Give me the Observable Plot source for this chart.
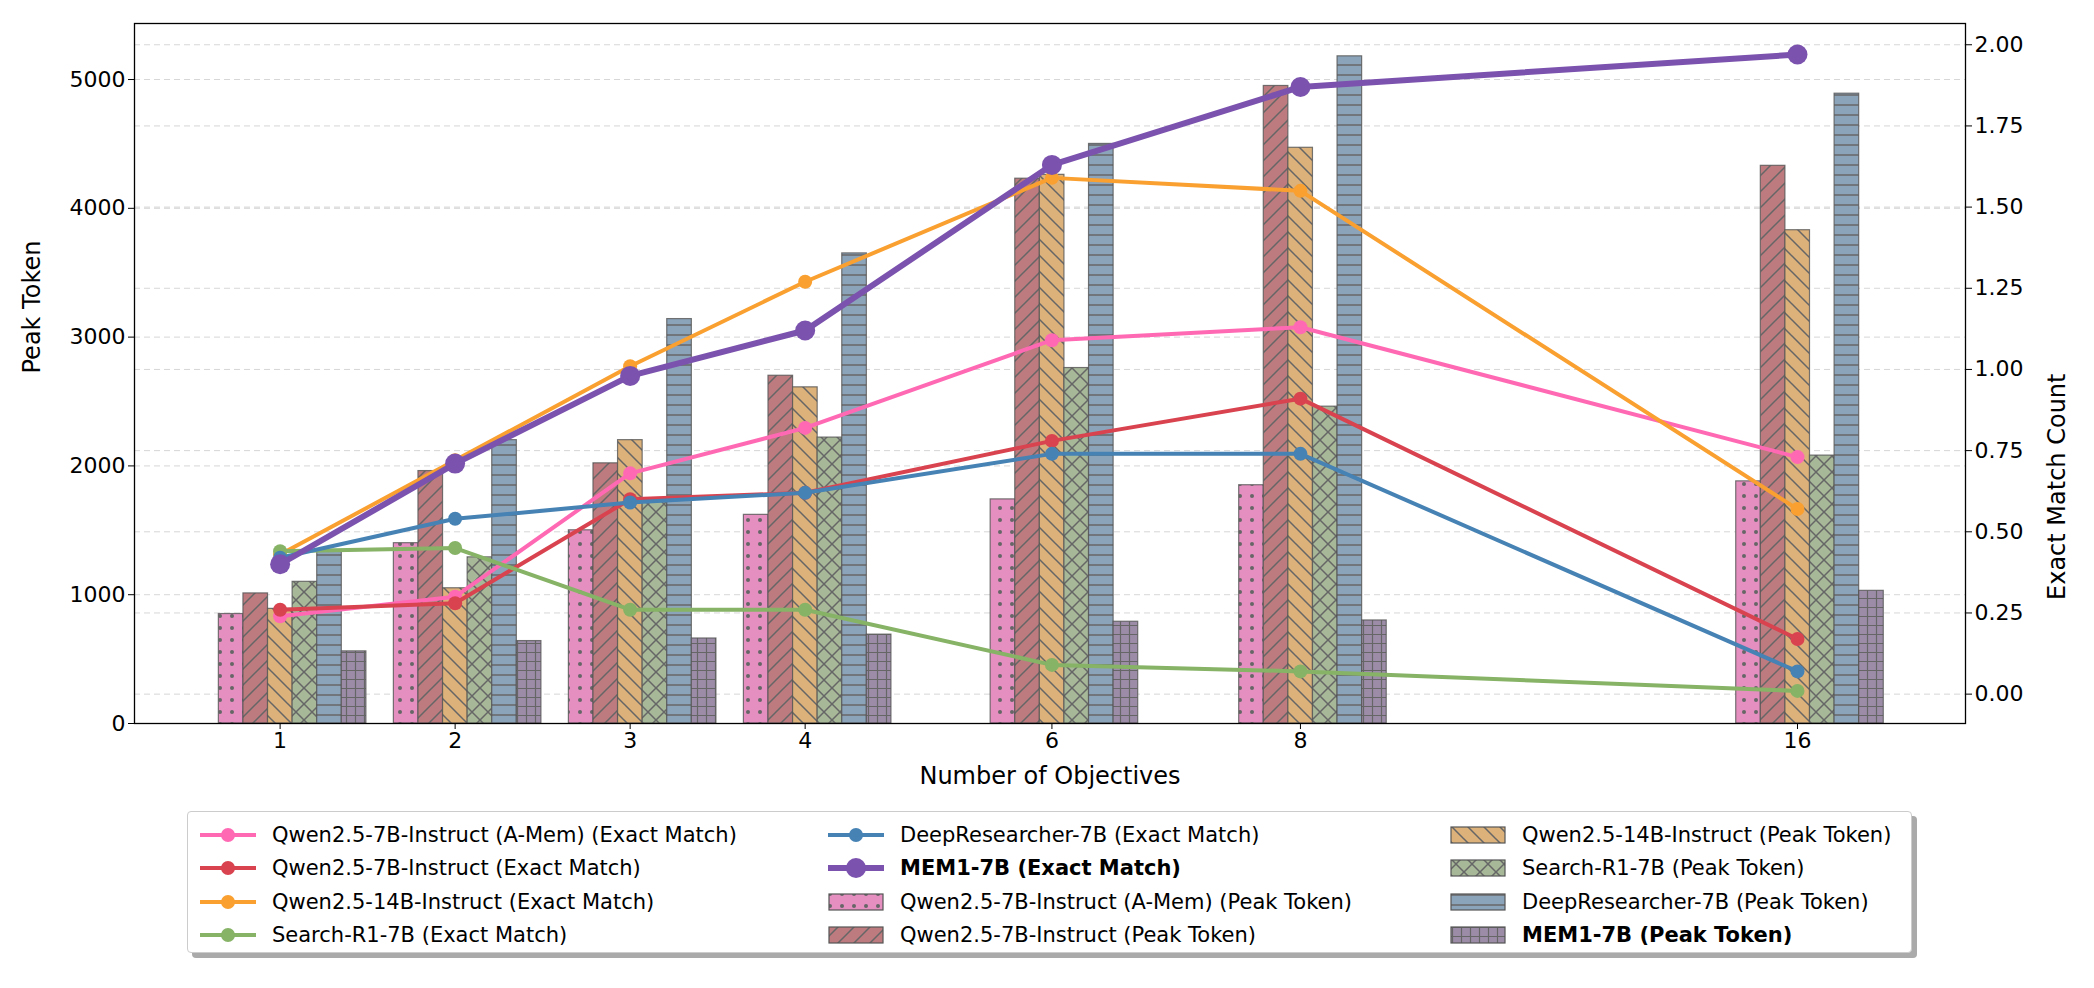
<!DOCTYPE html>
<html><head><meta charset="utf-8">
<script src="https://cdn.jsdelivr.net/npm/d3@7"></script>
<script src="https://cdn.jsdelivr.net/npm/@observablehq/plot@0.6"></script>
<style>
body{margin:0;background:#fff;font-family:"DejaVu Sans",sans-serif;}
#legend{position:absolute;left:187px;top:811px;width:1725px;height:142px;border:1.5px solid #ccc;border-radius:4px;background:#fff;box-shadow:5px 5px 0 #aaa;box-sizing:border-box;padding:6px 0 0 0;display:grid;grid-template-columns:628px 622px 470px;font-size:21px;}
.it{display:flex;align-items:center;height:33px;}
.it svg{margin:0 14px 0 10px;}
b{font-weight:bold}
</style></head><body>
<div id="chart"></div>
<div id="legend"></div>
<script>
const objectives = ["1","2","3","4","6","8","16"];
const xPos = [0,1,2,3,4.41,5.83,8.67];
const series = ["Qwen2.5-7B-Instruct (A-Mem)","Qwen2.5-7B-Instruct","Qwen2.5-14B-Instruct","Search-R1-7B","DeepResearcher-7B","MEM1-7B"];
const peakAMem = [850,1400,1500,1620,1740,1850,1880];
const peakQwen7 = [1010,1960,2020,2700,4230,4950,4330];
const peakQwen14 = [890,1050,2200,2610,4260,4470,3830];
const peakSearch = [1100,1290,1720,2220,2760,2460,2080];
const peakDR = [1340,2200,3140,3650,4500,5180,4890];
const peakMEM1 = [560,640,660,690,790,800,1030];
const emAMem = [0.24,0.30,0.68,0.82,1.09,1.13,0.73];
const emQwen7 = [0.26,0.28,0.60,0.62,0.78,0.91,0.17];
const emQwen14 = [0.43,0.72,1.01,1.27,1.59,1.55,0.57];
const emSearch = [0.44,0.45,0.26,0.26,0.09,0.07,0.01];
const emDR = [0.42,0.54,0.59,0.62,0.74,0.74,0.07];
const emMEM1 = [0.40,0.71,0.98,1.12,1.63,1.87,1.97];
const leftTicks = [0,1000,2000,3000,4000,5000];
const rightTicks = [0,0.25,0.5,0.75,1,1.25,1.5,1.75,2];

const peaks=[peakAMem,peakQwen7,peakQwen14,peakSearch,peakDR,peakMEM1];
const ems=[emAMem,emQwen7,emQwen14,emSearch,emDR,emMEM1];
const lineColors=["#ff69b4","#d9434f","#f9a030","#86b366","#4682b4","#7b52ae"];
const barColors=["#e48fc0","#bd7b80","#ddb17a","#a6b898","#8ca4ba","#9c8ca8"];
const EM0=228, EMK=2521;
const toL=v=>EM0+v*EMK;
const bw=0.1405, b0=-0.35;

const marks=[
  Plot.gridY(leftTicks,{stroke:"#bbb",strokeDasharray:"6,4",strokeOpacity:0.6}),
  Plot.gridY(rightTicks.map(toL),{stroke:"#bbb",strokeDasharray:"6,4",strokeOpacity:0.6}),
];
peaks.forEach((arr,i)=>{
  const d=arr.map((v,j)=>({x1:xPos[j]+b0+i*bw,x2:xPos[j]+b0+(i+1)*bw,y:v}));
  marks.push(Plot.rectY(d,{x1:"x1",x2:"x2",y1:0,y2:"y",fill:`url(#pat${i})`,stroke:"#555",strokeOpacity:0.8,strokeWidth:1.2}));
});
[0,1,2,3,4,5].forEach(i=>{
  const d=ems[i].map((v,j)=>({x:xPos[j],y:toL(v)}));
  const big=i===5;
  marks.push(Plot.line(d,{x:"x",y:"y",stroke:lineColors[i],strokeWidth:big?6:4}));
  marks.push(Plot.dot(d,{x:"x",y:"y",fill:lineColors[i],r:big?10:7}));
});
marks.push(
  Plot.axisY(leftTicks,{anchor:"left",tickSize:6,fontSize:22,tickFormat:d=>String(d),label:null}),
  Plot.axisY(rightTicks.map(toL),{anchor:"right",tickSize:6,fontSize:22,tickFormat:d=>((d-EM0)/EMK).toFixed(2),label:null}),
  Plot.axisX(xPos,{anchor:"bottom",tickSize:6,fontSize:22,tickFormat:d=>objectives[xPos.indexOf(d)],label:null}),
  Plot.frame({stroke:"#000",strokeWidth:1.3}),
  Plot.text(["Number of Objectives"],{frameAnchor:"bottom",dy:60,fontSize:24}),
  Plot.text(["Peak Token"],{frameAnchor:"left",dx:-102,rotate:-90,fontSize:24}),
  Plot.text(["Exact Match Count"],{frameAnchor:"right",dx:92,rotate:-90,fontSize:24})
);
const chart=Plot.plot({
  width:2094,height:800,marginLeft:134,marginRight:129,marginTop:23,marginBottom:77,
  style:{fontFamily:"DejaVu Sans",color:"#000",overflow:"visible"},
  x:{type:"linear",domain:[-0.832,9.63]},
  y:{domain:[0,5435]},
  marks
});
document.getElementById("chart").appendChild(chart);

function patternDefs(){
  const s=d3.create("svg").attr("width",0).attr("height",0).style("position","absolute");
  const defs=s.append("defs");
  const L="#666";
  const mk=(i,size,draw)=>{const p=defs.append("pattern").attr("id","pat"+i).attr("patternUnits","userSpaceOnUse").attr("width",size).attr("height",size);
    p.append("rect").attr("width",size).attr("height",size).attr("fill",barColors[i]);draw(p);};
  mk(0,12,p=>{p.append("circle").attr("cx",4).attr("cy",4).attr("r",2).attr("fill",L);});
  mk(1,16,p=>{p.append("path").attr("d","M0,16L16,0M-4,4L4,-4M12,20L20,12").attr("stroke",L).attr("stroke-width",1.5);});
  mk(2,16,p=>{p.append("path").attr("d","M0,0L16,16M-4,12L4,20M12,-4L20,4").attr("stroke",L).attr("stroke-width",1.5);});
  mk(3,16,p=>{p.append("path").attr("d","M0,0L16,16M-4,12L4,20M12,-4L20,4M0,16L16,0M-4,4L4,-4M12,20L20,12").attr("stroke",L).attr("stroke-width",1.5);});
  mk(4,10,p=>{p.append("path").attr("d","M0,5H10").attr("stroke",L).attr("stroke-width",1.5);});
  mk(5,9,p=>{p.append("path").attr("d","M0,4.5H9M4.5,0V9").attr("stroke",L).attr("stroke-width",1.2);});
  return s.node();
}
document.body.prepend(patternDefs());

const leg=document.getElementById("legend");
function lineSw(i){const big=i===5;return `<svg width="60" height="24"><line x1="2" x2="58" y1="12" y2="12" stroke="${lineColors[i]}" stroke-width="${big?6:4}"/><circle cx="30" cy="12" r="${big?10:7}" fill="${lineColors[i]}"/></svg>`;}
function barSw(i){return `<svg width="60" height="24"><rect x="3" y="4" width="54" height="16" fill="url(#pat${i})" stroke="#555" stroke-width="1.2"/></svg>`;}
const items=[];
series.forEach((s,i)=>items.push({sw:lineSw(i),t:s+" (Exact Match)",bold:i===5}));
series.forEach((s,i)=>items.push({sw:barSw(i),t:s+" (Peak Token)",bold:i===5}));
const cols=[[0,1,2,3],[4,5,6,7],[8,9,10,11]];
const cells=[];
for(let r=0;r<4;r++)for(let c=0;c<3;c++){const it=items[cols[c][r]];cells.push(`<div class="it">${it.sw}<span>${it.bold?"<b>"+it.t+"</b>":it.t}</span></div>`);}
leg.innerHTML=cells.join("");
</script>
</body></html>
